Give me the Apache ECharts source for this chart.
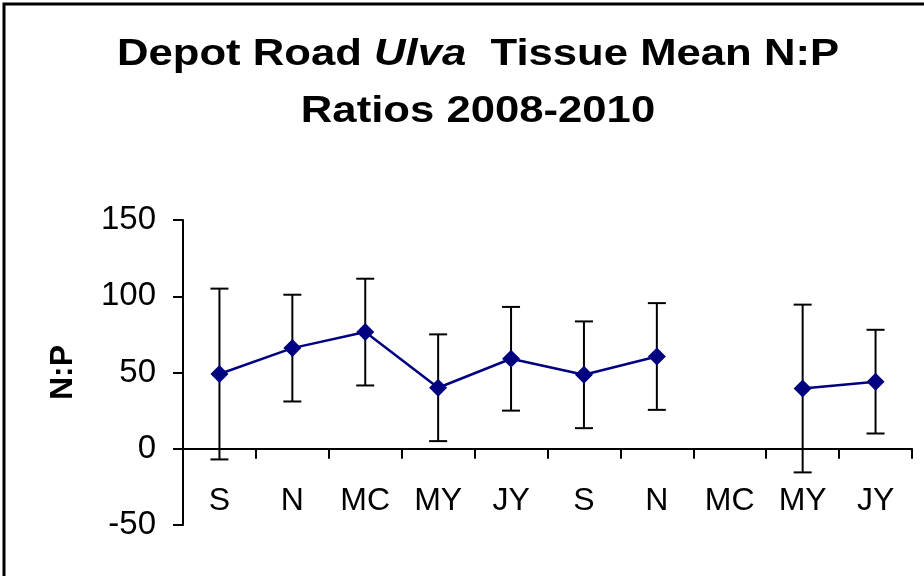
<!DOCTYPE html>
<html>
<head>
<meta charset="utf-8">
<script src="https://cdn.jsdelivr.net/npm/echarts@6/dist/echarts.min.js"></script>
<style>
  html, body { margin: 0; padding: 0; background: #fff; }
  #chart { width: 924px; height: 576px; }
</style>
</head>
<body>
<div id="chart"></div>
<script>
// sampling months, 2008-2010
const categories = ['S', 'N', 'MC', 'MY', 'JY', 'S', 'N', 'MC', 'MY', 'JY'];
// mean N:P ratio (no sample for the second MC)
const means = [49, 66, 76.5, 40, 59, 48.5, 60.5, null, 39.5, 44];
// error bar half-length
const errors = [56, 35, 35, 35, 34, 35, 35, null, 55, 34];
const yTicks = { min: -50, max: 150, step: 50 };

const font = '"Liberation Sans", Arial, sans-serif';
const chart = echarts.init(document.getElementById('chart'));

const errData = [];
means.forEach(function (m, i) {
  if (m != null) errData.push([i, m - errors[i], m + errors[i]]);
});

const option = {
  animation: false,
  backgroundColor: '#fff',
  graphic: [
    {
      type: 'rect',
      shape: { x: 4, y: 4, width: 1000, height: 1000 },
      style: { fill: 'none', stroke: '#000', lineWidth: 3 },
      silent: true
    },
    {
      type: 'text',
      x: 478,
      y: 26,
      scaleX: 1.18,
      originX: 0,
      style: {
        text: '{b|Depot Road }{i|Ulva}{b|  Tissue Mean N:P}\n{b|Ratios 2008-2010}',
        align: 'center',
        verticalAlign: 'top',
        rich: {
          b: { fontFamily: font, fontWeight: 'bold', fontSize: 37, lineHeight: 57, fill: '#000' },
          i: { fontFamily: font, fontWeight: 'bold', fontStyle: 'italic', fontSize: 37, lineHeight: 57, fill: '#000' }
        }
      }
    }
  ],
  grid: { left: 183, right: 12, top: 220, bottom: 51, outerBoundsMode: 'none', containLabel: false },
  xAxis: {
    type: 'category',
    data: categories,
    axisLine: { onZero: true, lineStyle: { color: '#000', width: 2 } },
    axisTick: { show: true, length: 10, lineStyle: { color: '#000', width: 2 } },
    // labels sit at the grid bottom, pull them up under the zero line
    axisLabel: { color: '#000', fontSize: 32, fontFamily: font, margin: -40 }
  },
  yAxis: {
    type: 'value',
    min: yTicks.min,
    max: yTicks.max,
    interval: yTicks.step,
    name: 'N:P',
    nameLocation: 'middle',
    nameRotate: 90,
    nameGap: 104,
    nameTextStyle: { color: '#000', fontSize: 32, fontWeight: 'bold', fontFamily: font },
    axisLine: { show: true, lineStyle: { color: '#000', width: 2 } },
    axisTick: { show: true, length: 10, lineStyle: { color: '#000', width: 2 } },
    axisLabel: { color: '#000', fontSize: 33, fontFamily: font, margin: 27 },
    splitLine: { show: false }
  },
  series: [
    {
      type: 'custom',
      data: errData,
      z: 1,
      renderItem: function (params, api) {
        const x = api.value(0);
        const lo = api.coord([x, api.value(1)]);
        const hi = api.coord([x, api.value(2)]);
        const half = 9;
        const st = { stroke: '#000', lineWidth: 2 };
        return {
          type: 'group',
          children: [
            { type: 'line', shape: { x1: lo[0], y1: lo[1], x2: hi[0], y2: hi[1] }, style: st },
            { type: 'line', shape: { x1: hi[0] - half, y1: hi[1], x2: hi[0] + half, y2: hi[1] }, style: st },
            { type: 'line', shape: { x1: lo[0] - half, y1: lo[1], x2: lo[0] + half, y2: lo[1] }, style: st }
          ]
        };
      }
    },
    {
      type: 'line',
      data: means,
      z: 3,
      connectNulls: false,
      symbol: 'diamond',
      symbolSize: 18,
      lineStyle: { color: '#000080', width: 2.5 },
      itemStyle: { color: '#000080' }
    }
  ]
};

chart.setOption(option);
</script>
</body>
</html>
